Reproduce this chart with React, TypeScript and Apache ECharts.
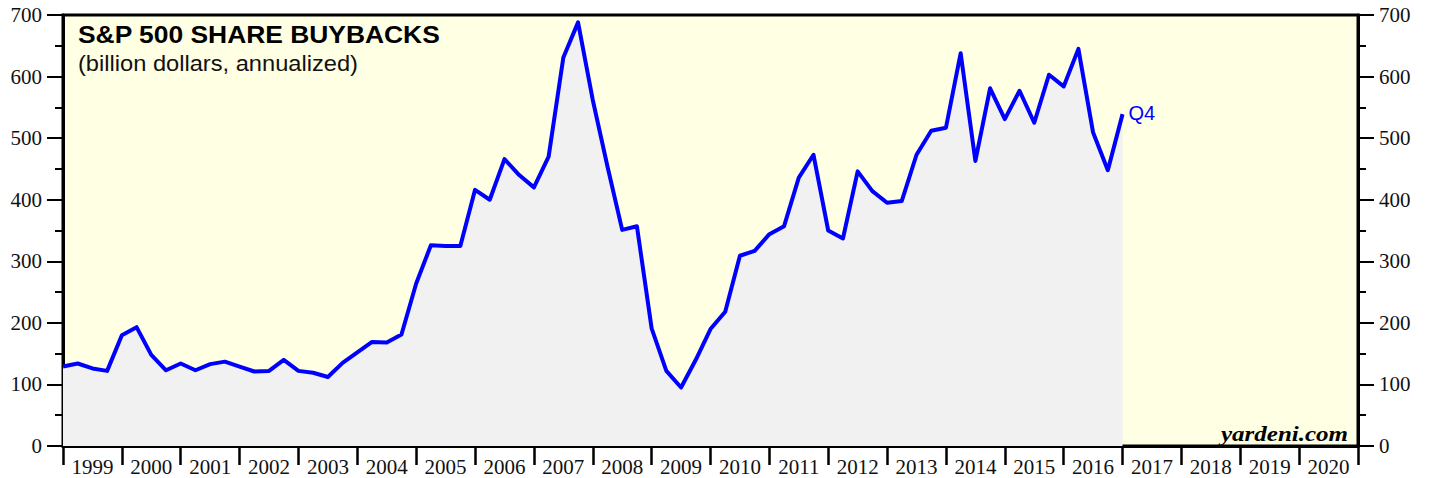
import React, { useEffect, useRef } from "react";
import * as echarts from "echarts";

// Quarterly S&P 500 buybacks (billion $, annualized), quarter-end positions from Q4 1998 to Q4 2016
const startYear = 1999; // position of the first quarter-end
const buybacks = [
  129, 134, 126, 122, 180, 193, 148, 123, 134, 123, 133, 137, 129, 121, 122, 140,
  122, 119, 112, 135, 152, 169, 168, 181, 264, 326, 325, 325, 416, 400, 466, 440,
  420, 470, 631, 688, 562, 454, 351, 357, 191, 122, 95, 140, 190, 218, 309, 317,
  344, 357, 436, 473, 350, 337, 446, 414, 395, 398, 473, 512, 517, 638, 463, 581,
  531, 577, 525, 603, 584, 645, 509, 448, 539,
];
const years = [
  "1999", "2000", "2001", "2002", "2003", "2004", "2005", "2006", "2007", "2008", "2009",
  "2010", "2011", "2012", "2013", "2014", "2015", "2016", "2017", "2018", "2019", "2020",
];
const titleText = "S&P 500 SHARE BUYBACKS";
const subtitleText = "(billion dollars, annualized)";
const sourceText = "yardeni.com";
const lastLabel = "Q4";

export default function App() {
  const ref = useRef<HTMLDivElement>(null);
  useEffect(() => {
    document.body.style.margin = "0";
    const chart = echarts.init(ref.current!, null, { renderer: "svg" });
    const seriesData = buybacks.map((v, i) => [startYear + i / 4, v]);
    const serif = "'Liberation Serif', 'Times New Roman', serif";
    const sans = "'Liberation Sans', Arial, Helvetica, sans-serif";
    const yAxisCommon = {
      type: "value",
      min: 0,
      max: 700,
      interval: 100,
      axisLine: { show: true, lineStyle: { color: "#000", width: 3 } },
      axisTick: { show: true, length: 16, lineStyle: { color: "#000", width: 2 } },
      minorTick: { show: true, splitNumber: 2, length: 8, lineStyle: { color: "#000", width: 2 } },
      splitLine: { show: false },
      axisLabel: { fontFamily: serif, fontSize: 21, color: "#111", margin: 21 },
    };
    chart.setOption({
      animation: false,
      grid: {
        left: 63,
        right: 71,
        top: 15,
        bottom: 32,
        show: true,
        backgroundColor: "#ffffe4",
        borderColor: "#000",
        borderWidth: 3,
      },
      xAxis: [
        {
          type: "category",
          data: years,
          boundaryGap: true,
          position: "bottom",
          axisLine: { show: true, lineStyle: { color: "#000", width: 3 } },
          axisTick: { show: true, interval: 0, length: 19, lineStyle: { color: "#000", width: 2.5 } },
          axisLabel: { interval: 0, fontFamily: serif, fontSize: 21, color: "#111", margin: 10 },
          splitLine: { show: false },
        },
        {
          type: "value",
          min: startYear,
          max: 2021,
          show: false,
          splitLine: { show: false },
        },
      ],
      yAxis: [
        { ...yAxisCommon, position: "left" },
        { ...yAxisCommon, position: "right" },
      ],
      series: [
        {
          type: "line",
          xAxisIndex: 1,
          yAxisIndex: 0,
          data: seriesData,
          symbol: "none",
          lineStyle: { color: "#0000ff", width: 4, join: "round" },
          areaStyle: { color: "#f1f1f1", opacity: 1 },
          endLabel: {
            show: true,
            formatter: lastLabel,
            color: "#0000ff",
            fontFamily: sans,
            fontSize: 20,
            distance: 6,
            offset: [0, -1],
          },
          z: 3,
        },
      ],
      graphic: [
        {
          type: "text",
          x: 78,
          y: 22,
          scaleX: 1.1,
          style: { text: titleText, font: `bold 24px ${sans}`, fill: "#000", verticalAlign: "top" },
        },
        {
          type: "text",
          x: 78,
          y: 53,
          scaleX: 1.1,
          style: { text: subtitleText, font: `21.5px ${sans}`, fill: "#111", verticalAlign: "top" },
        },
        {
          type: "text",
          x: 1348,
          y: 434,
          scaleX: 1.25,
          style: {
            text: sourceText,
            font: `italic bold 20px ${serif}`,
            fill: "#000",
            align: "right",
            verticalAlign: "middle",
          },
        },
      ],
    });
    return () => chart.dispose();
  }, []);
  return <div ref={ref} style={{ width: 1429, height: 478 }} />;
}
